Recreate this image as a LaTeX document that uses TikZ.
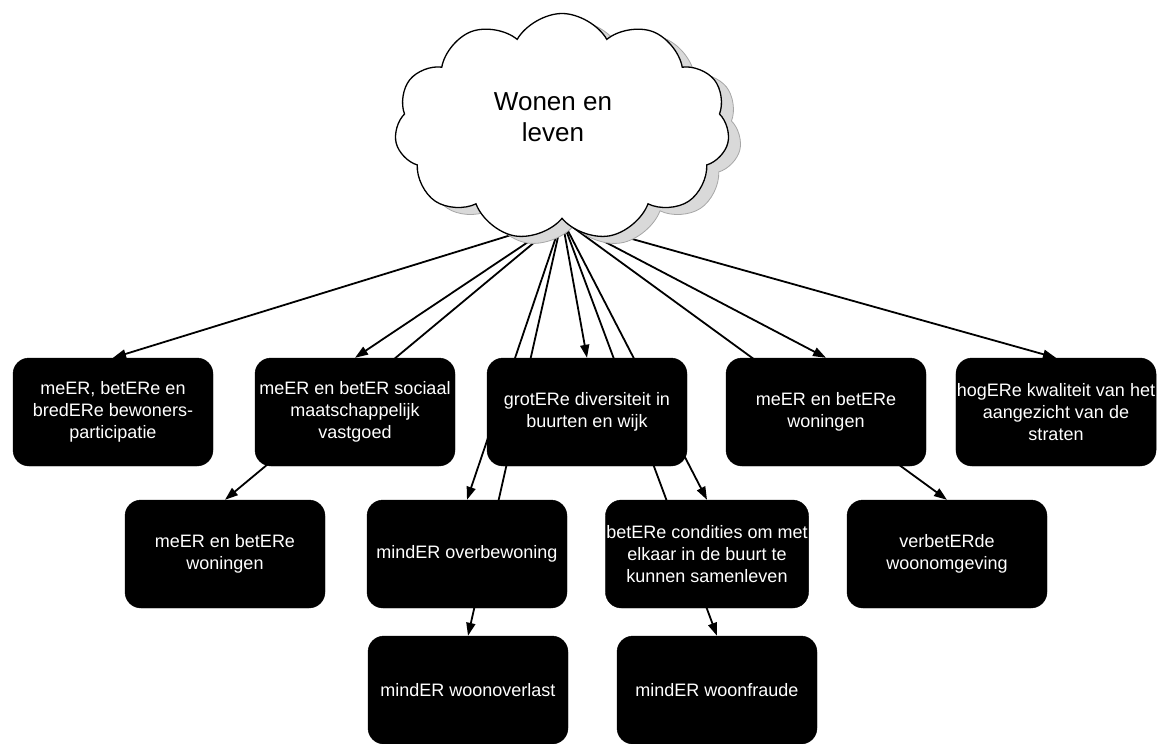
\documentclass[tikz,border=0pt]{standalone}
\usepackage{fontspec}
\setmainfont{Liberation Sans}
\usetikzlibrary{arrows.meta,shapes.symbols,backgrounds}

\begin{document}
\begin{tikzpicture}[
    x=1pt, y=-1pt,
    >={Triangle[length=13pt,width=9pt]},
    % Define styles
    wolk/.style={cloud, cloud puffs=11, cloud puff arc=120, aspect=1.45, draw=black, line width=1.3pt, fill=white, minimum width=335pt, minimum height=227pt, inner sep=0pt},
    doel/.style={rectangle, rounded corners=16pt, draw=black, fill=black, text=white, minimum width=200pt, minimum height=108pt, inner sep=1pt, align=center, font=\fontsize{18}{22}\selectfont},
    pijl/.style={->, line width=1.8pt, black},
]
\useasboundingbox (0,0) rectangle (1159,744);

% Cloud with shadow
\node[wolk, fill=gray!30, draw=gray!70, line width=0.8pt] (schaduw) at (574,134) {};
\node[wolk] (wolk) at (562,127) {};
\node[font=\fontsize{26}{31}\selectfont, align=center] (titel) at (553,117) {Wonen en\\leven};

% First row
\node[doel] (participatie) at (113,412) {meER, betERe en\\bredERe bewoners-\\participatie};
\node[doel] (vastgoed) at (355,412) {meER en betER sociaal\\maatschappelijk\\vastgoed};
\node[doel] (diversiteit) at (587,412) {grotERe diversiteit in\\buurten en wijk};
\node[doel] (woningen) at (826,412) {meER en betERe\\woningen};
\node[doel] (straten) at (1056,412) {hogERe kwaliteit van het\\aangezicht van de\\straten};

% Second row
\node[doel] (woningentwee) at (225,554) {meER en betERe\\woningen};
\node[doel] (overbewoning) at (467,554) {mindER overbewoning};
\node[doel] (condities) at (707,554) {betERe condities om met\\elkaar in de buurt te\\kunnen samenleven};
\node[doel] (woonomgeving) at (947,554) {verbetERde\\woonomgeving};

% Third row
\node[doel] (woonoverlast) at (468,690) {mindER woonoverlast};
\node[doel] (woonfraude) at (717,690) {mindER woonfraude};

% Connections - all from the cloud, behind the boxes
\begin{pgfonlayer}{background}
\draw[pijl] (wolk.south) -- (participatie.north);
\draw[pijl] (wolk.south) -- (vastgoed.north);
\draw[pijl] (wolk.south) -- (diversiteit.north);
\draw[pijl] (wolk.south) -- (woningen.north);
\draw[pijl] (wolk.south) -- (straten.north);
\draw[pijl] (wolk.south) -- (woningentwee.north);
\draw[pijl] (wolk.south) -- (overbewoning.north);
\draw[pijl] (wolk.south) -- (condities.north);
\draw[pijl] (wolk.south) -- (woonomgeving.north);
\draw[pijl] (wolk.south) -- (woonoverlast.north);
\draw[pijl] (wolk.south) -- (woonfraude.north);
\end{pgfonlayer}

\end{tikzpicture}
\end{document}
